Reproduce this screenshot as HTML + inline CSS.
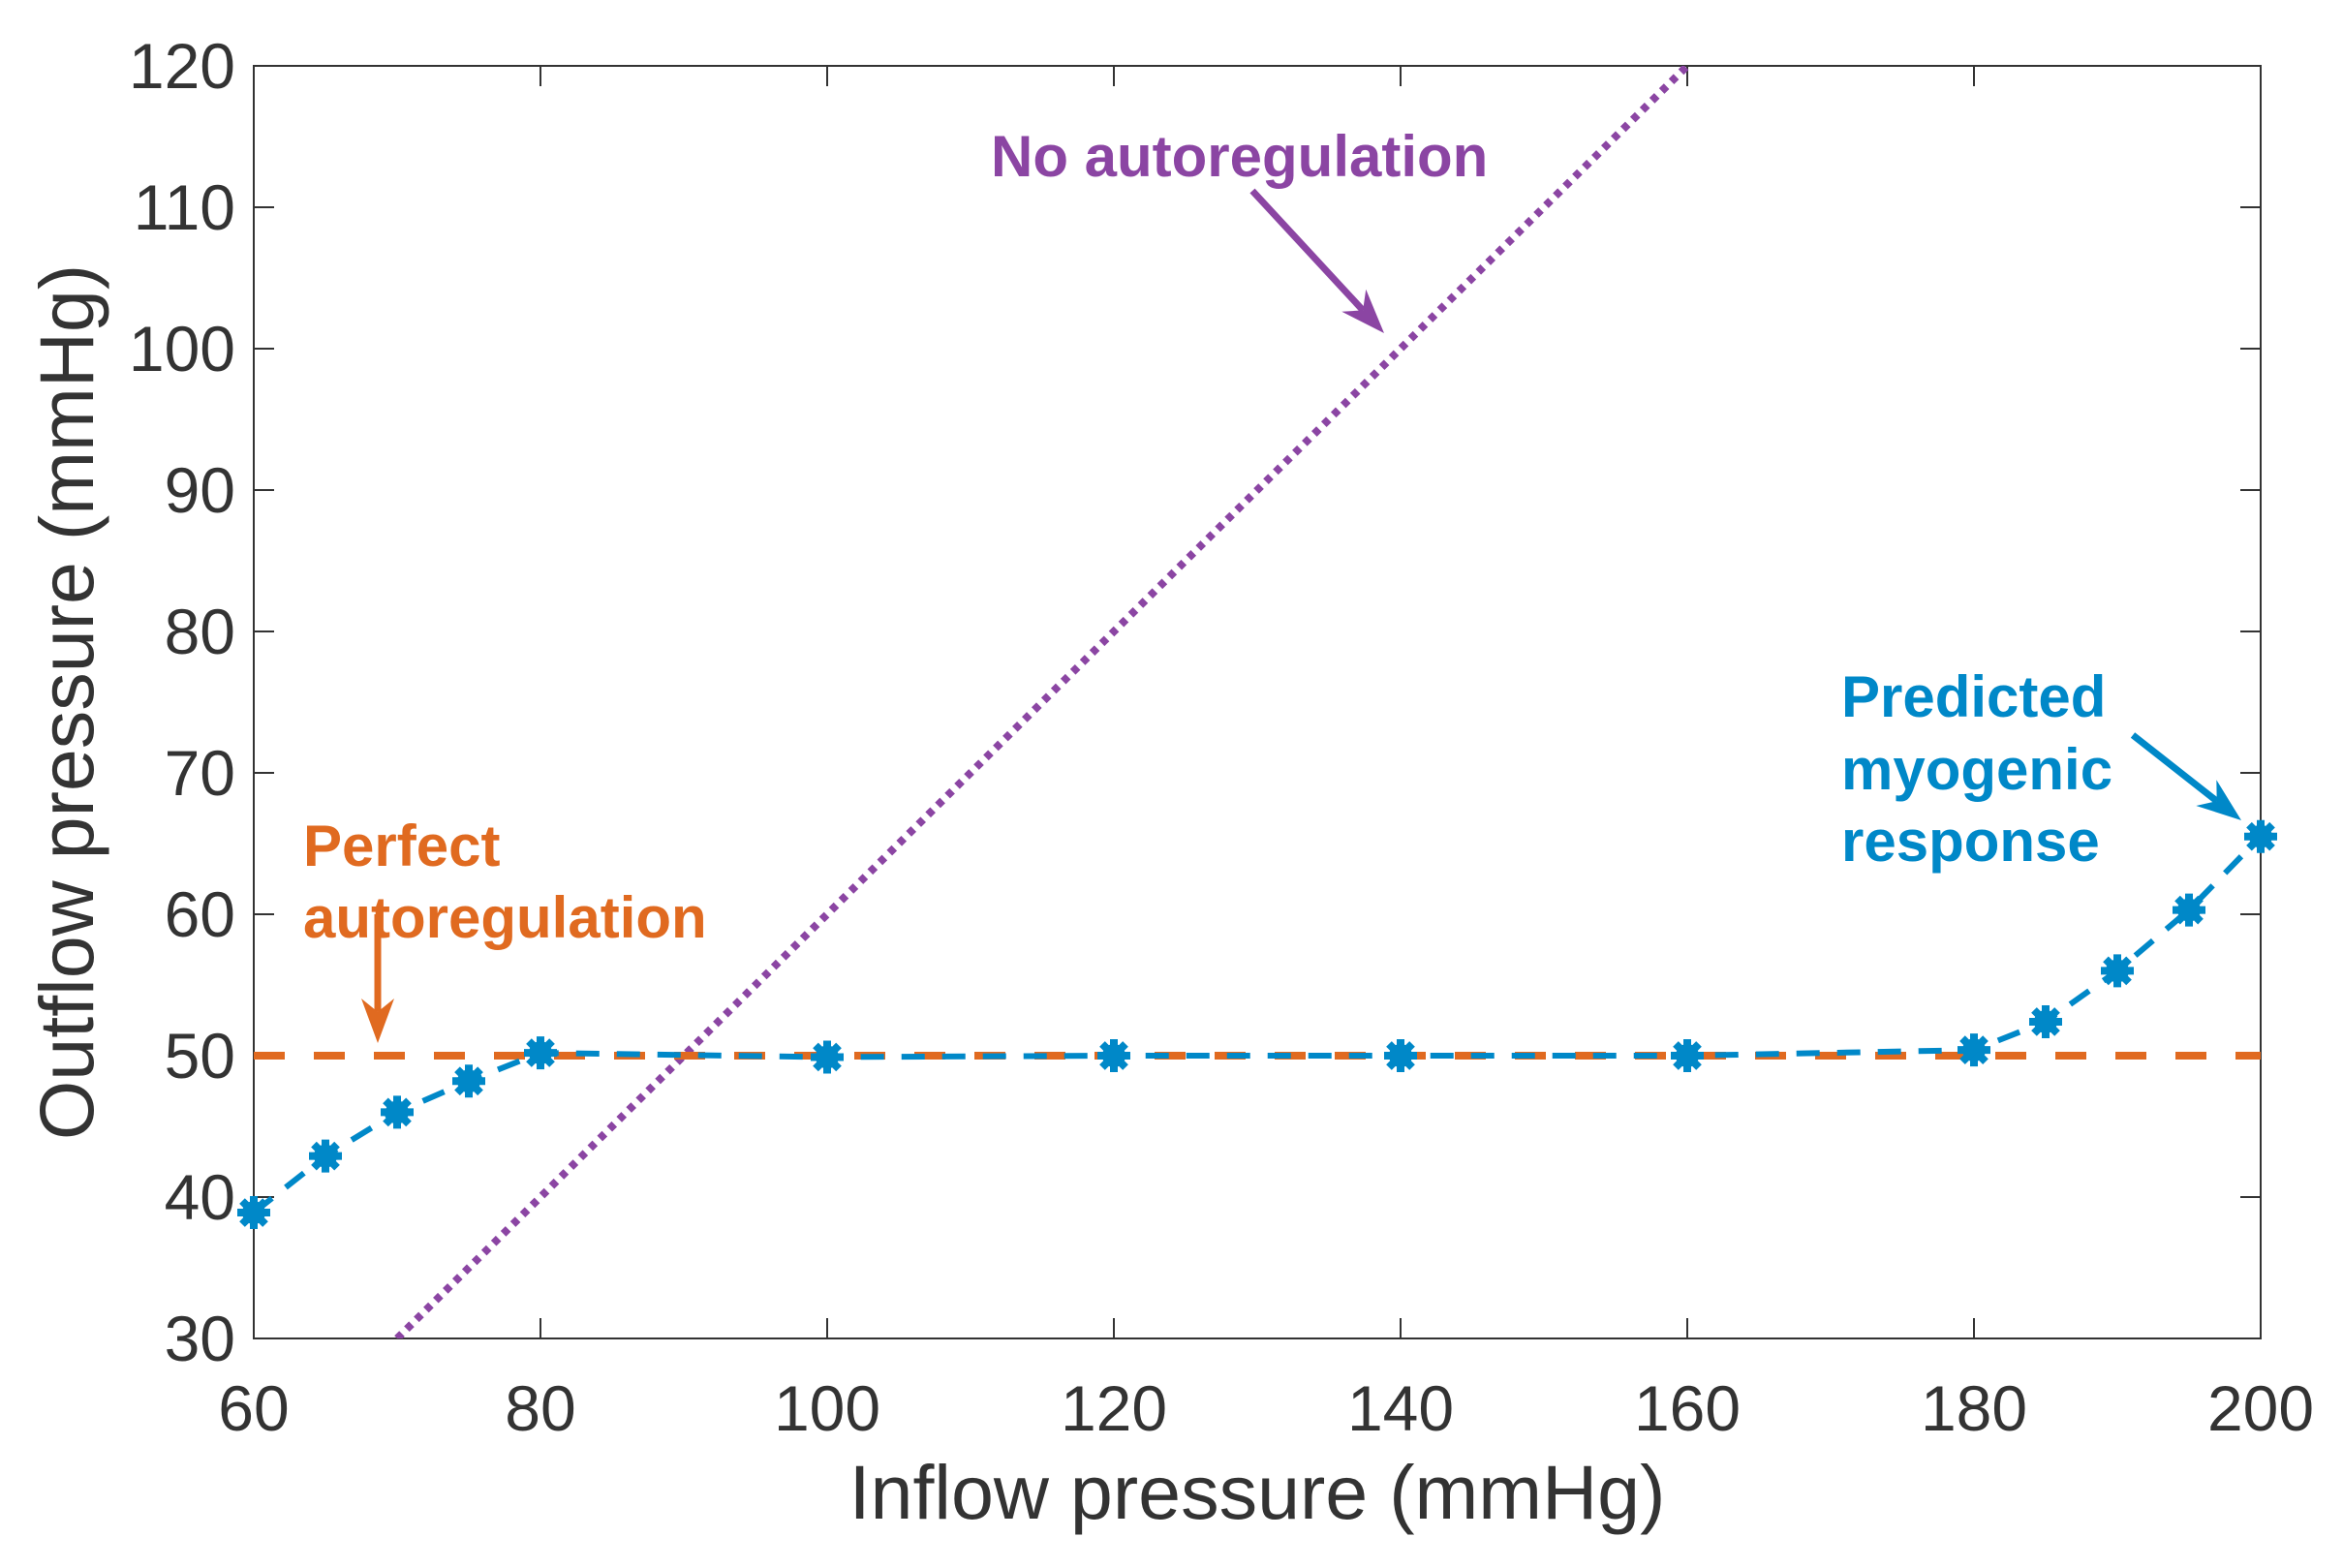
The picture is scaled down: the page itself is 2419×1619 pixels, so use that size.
<!DOCTYPE html>
<html><head><meta charset="utf-8"><style>
html,body{margin:0;padding:0;background:#fff;}
svg{display:block;font-family:"Liberation Sans",sans-serif;}
</style></head><body>
<svg id="chart" width="2419" height="1619" viewBox="0 0 2419 1619">
<g id="plot"></g>
</svg>
<script>
const xTicks = [60, 80, 100, 120, 140, 160, 180, 200];
const yTicks = [30, 40, 50, 60, 70, 80, 90, 100, 110, 120];
const inflow = [60, 65, 70, 75, 80, 100, 120, 140, 160, 180, 185, 190, 195, 200];
const outflow = [38.9, 42.9, 46.0, 48.2, 50.2, 49.9, 50.0, 50.0, 50.0, 50.4, 52.4, 56.0, 60.3, 65.5];
const perfectLevel = [50];
const noAutoX = [70, 160];
const noAutoOffset = [40];

const L = 262, R = 2334, T = 68, B = 1382;
const X0 = 60, X1 = 200, Y0 = 30, Y1 = 120;
const sx = v => L + (v - X0) / (X1 - X0) * (R - L);
const sy = v => B - (v - Y0) / (Y1 - Y0) * (B - T);
const NS = 'http://www.w3.org/2000/svg';
const g = document.getElementById('plot');
function mk(tag, attrs, parent) {
  const e = document.createElementNS(NS, tag);
  for (const k in attrs) e.setAttribute(k, attrs[k]);
  (parent || g).appendChild(e);
  return e;
}
const AX = '#333333';

const box = mk('rect', {x: L, y: T, width: R - L, height: B - T, fill: 'none', stroke: AX, 'stroke-width': 2});



xTicks.forEach(v => {
  const x = sx(v);
  const t1 = mk('line', {x1: x, y1: B, x2: x, y2: B - 21, stroke: AX, 'stroke-width': 2});
  
  
  const t2 = mk('line', {x1: x, y1: T, x2: x, y2: T + 21, stroke: AX, 'stroke-width': 2});
  
  
  const lb = mk('text', {x: x, y: 1477, 'text-anchor': 'middle', 'font-size': 66, fill: AX});
  lb.textContent = v;
  
  
});
yTicks.forEach(v => {
  const y = sy(v);
  const t1 = mk('line', {x1: L, y1: y, x2: L + 21, y2: y, stroke: AX, 'stroke-width': 2});
  
  
  const t2 = mk('line', {x1: R, y1: y, x2: R - 21, y2: y, stroke: AX, 'stroke-width': 2});
  
  
  const lb = mk('text', {x: 243, y: y + 23, 'text-anchor': 'end', 'font-size': 66, fill: AX});
  lb.textContent = v;
  
  
});

const xt = mk('text', {x: (L + R) / 2, y: 1568, 'text-anchor': 'middle', 'font-size': 79, fill: AX});
xt.textContent = 'Inflow pressure (mmHg)';


const yt = mk('text', {x: 0, y: 0, 'text-anchor': 'middle', 'font-size': 79, fill: AX, transform: 'translate(96,725) rotate(-90)'});
yt.textContent = 'Outflow pressure (mmHg)';



const cp = mk('clipPath', {id: 'clip'});
mk('rect', {x: L, y: T, width: R - L, height: B - T}, cp);

const pl = mk('line', {x1: sx(noAutoX[0]), y1: sy(noAutoX[0] - noAutoOffset[0]), x2: sx(noAutoX[1]), y2: sy(noAutoX[1] - noAutoOffset[0]), stroke: '#8B45A3', 'stroke-width': 8, 'stroke-dasharray': '7 7', 'clip-path': 'url(#clip)'});



const ol = mk('line', {x1: L, y1: sy(perfectLevel[0]), x2: R, y2: sy(perfectLevel[0]), stroke: '#E06A20', 'stroke-width': 8, 'stroke-dasharray': '32 30'});



const pts = inflow.map((v, i) => sx(v) + ',' + sy(outflow[i])).join(' ');
const bl = mk('polyline', {points: pts, fill: 'none', stroke: '#0088C8', 'stroke-width': 6, 'stroke-dasharray': '24 18'});


inflow.forEach((v, i) => {
  const cx = sx(v), cy = sy(outflow[i]);
  const mg = mk('g', {transform: `translate(${cx},${cy})`});
  
  
  mk('circle', {cx: 0, cy: 0, r: 12, fill: '#0088C8'}, mg);
  [0, 45, 90, 135].forEach(a => {
    mk('line', {x1: -17, y1: 0, x2: 17, y2: 0, stroke: '#0088C8', 'stroke-width': 8, transform: `rotate(${a})`}, mg);
  });
});

function ann(txt, x, y, col, name) {
  const t = mk('text', {x: x, y: y, 'font-size': 60, 'font-weight': 'bold', fill: col});
  t.textContent = txt;
  
  
}
function arrow(x1, y1, x2, y2, col, name) {
  const a = Math.atan2(y2 - y1, x2 - x1), hl = 46, hw = 17;
  const bx = x2 - hl * Math.cos(a), by = y2 - hl * Math.sin(a);
  const ag = mk('g', {});
  
  
  mk('line', {x1: x1, y1: y1, x2: bx + 0.3 * hl * Math.cos(a), y2: by + 0.3 * hl * Math.sin(a), stroke: col, 'stroke-width': 7}, ag);
  const px = -Math.sin(a) * hw, py = Math.cos(a) * hw;
  mk('polygon', {points: `${x2},${y2} ${bx + px},${by + py} ${bx + 0.3 * hl * Math.cos(a)},${by + 0.3 * hl * Math.sin(a)} ${bx - px},${by - py}`, fill: col}, ag);
}
ann('No autoregulation', 1023, 182, '#8B45A3', 'no-autoregulation-label');
arrow(1293, 197, 1429, 344, '#8B45A3', 'no-autoregulation-arrow');
ann('Perfect', 313, 894, '#E06A20', 'perfect-label-line1');
ann('autoregulation', 313, 968, '#E06A20', 'perfect-label-line2');
arrow(390, 944, 390, 1077, '#E06A20', 'perfect-autoregulation-arrow');
ann('Predicted', 1901, 740, '#0088C8', 'predicted-label-line1');
ann('myogenic', 1901, 815, '#0088C8', 'predicted-label-line2');
ann('response', 1901, 889, '#0088C8', 'predicted-label-line3');
arrow(2202, 759, 2314, 847, '#0088C8', 'predicted-arrow');
</script>
</body></html>
